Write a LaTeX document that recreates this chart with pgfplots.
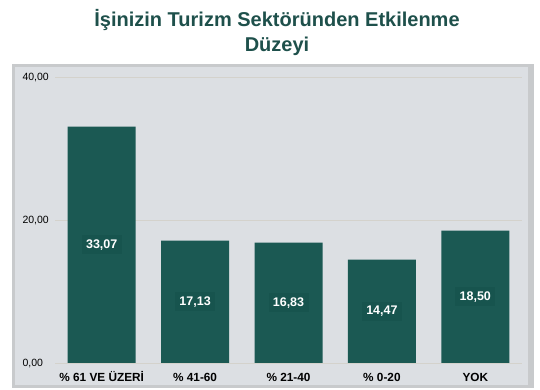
\documentclass[border=0pt]{standalone}
\usepackage{pgfplots}
\pgfplotsset{compat=1.18}
\usepackage{fontspec}
\setmainfont{Liberation Sans}
\definecolor{barc}{RGB}{27,89,83}
\definecolor{boxc}{RGB}{23,84,78}
\definecolor{panel}{RGB}{220,223,227}
\definecolor{frame}{RGB}{200,202,204}
\definecolor{titlec}{RGB}{30,80,75}
\definecolor{gridc}{RGB}{212,210,204}
\begin{document}
\begin{tikzpicture}[x=1pt,y=1pt]
\path[use as bounding box] (0,0) rectangle (540,390);
\fill[frame] (12,2) rectangle (534,326);
\fill[panel] (15,5) rectangle (528,323);
\node[font=\bfseries\fontsize{20}{25}\selectfont, text=titlec, align=center] at (277,357) {İşinizin Turizm Sektöründen Etkilenme\\Düzeyi};
\begin{axis}[
  at={(55pt,27pt)}, anchor=south west,
  width=467pt, height=286pt, scale only axis,
  xmin=-0.5, xmax=4.5, ymin=0, ymax=40,
  axis line style={draw=none},
  ytick={0,20,40},
  ymajorgrids, grid style={gridc, line width=0.5pt},
  xtick={0,1,2,3,4},
  xticklabels={\% 61 VE ÜZERİ,\% 41-60,\% 21-40,\% 0-20,YOK},
  xticklabel style={font=\bfseries\fontsize{11.8}{14}\selectfont, anchor=base, yshift=-18.5pt},
  yticklabel style={font=\fontsize{10.5}{12}\selectfont, anchor=west, xshift=-36pt, yshift=-1pt},
  /pgf/number format/assume math mode=true,
  /pgf/number format/.cd, fixed, fixed zerofill, precision=2, use comma,
  /pgfplots/.cd,
  major tick length=0pt, tick style={draw=none},
  clip=false,
]
\addplot[ybar, bar width=68pt, fill=barc, draw=none] coordinates {
  (0,33.07) (1,17.13) (2,16.83) (3,14.47) (4,18.50)};
\addplot[draw=none, mark=none, nodes near coords, point meta=explicit symbolic,
  every node near coord/.append style={anchor=center, fill=boxc, text=white,
    font=\bfseries\fontsize{12.5}{14}\selectfont, inner sep=3pt, minimum width=40pt, minimum height=19pt}]
  coordinates {(0,16.535)[33,07] (1,8.565)[17,13] (2,8.415)[16,83] (3,7.235)[14,47] (4,9.25)[18,50]};
\end{axis}
\end{tikzpicture}
\end{document}
